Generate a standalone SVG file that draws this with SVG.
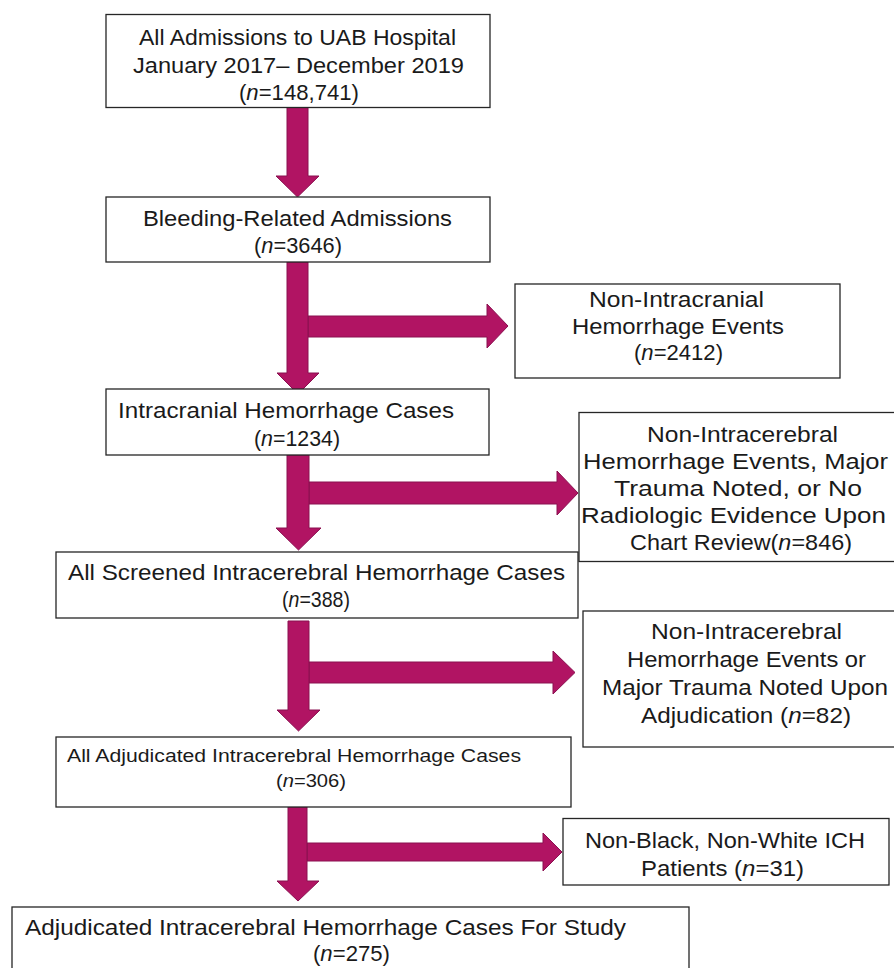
<svg xmlns="http://www.w3.org/2000/svg" width="894" height="968" viewBox="0 0 894 968">
<style>
.box{fill:#fff;stroke:#262626;stroke-width:1.3}
.t{font-family:"Liberation Sans",Arial,sans-serif;font-size:22px;fill:#1a1a1a}
.s{font-size:17.5px}
.i{font-style:italic}
.arr{fill:#B11463;stroke:#8A1050;stroke-width:1}
</style>
<rect width="894" height="968" fill="#fff"/>
<g id="connectors">
  <path class="arr" d="M287,107 H308 V176 H319 L297.5,197 L276,176 H287 Z"/>
  <path class="arr" d="M308,316 H487 V304 L508,326 L487,348 V337 H308 Z"/>
  <path class="arr" d="M287,262 H308 V373 H319 L298,394 L277,373 H287 Z"/>
  <path class="arr" d="M309,482 H557 V471 L578,493 L557,515 V504 H309 Z"/>
  <path class="arr" d="M287,455 H309 V528 H321 L298.5,550 L276,528 H287 Z"/>
  <path class="arr" d="M309,662 H553 V651 L575,672.5 L553,694 V683 H309 Z"/>
  <path class="arr" d="M288,621 H309 V710 H320 L298.5,731 L277,710 H288 Z"/>
  <path class="arr" d="M307,843 H543 V833 L562,852 L543,871 V861 H307 Z"/>
  <path class="arr" d="M288,807 H307 V881 H319 L298,901 L277,881 H288 Z"/>
</g>
<g id="n1">
  <rect class="box" x="106" y="14.5" width="384" height="93"/>
  <text class="t" x="139" y="45" textLength="317" lengthAdjust="spacingAndGlyphs">All Admissions to UAB Hospital</text>
  <text class="t" x="133" y="73" textLength="331" lengthAdjust="spacingAndGlyphs">January 2017– December 2019</text>
  <text class="t" x="239" y="100" textLength="120" lengthAdjust="spacingAndGlyphs">(<tspan class="i">n</tspan>=148,741)</text>
</g>
<g id="n2">
  <rect class="box" x="106" y="197" width="384" height="65"/>
  <text class="t" x="143" y="226" textLength="309" lengthAdjust="spacingAndGlyphs">Bleeding-Related Admissions</text>
  <text class="t" x="254" y="253" textLength="88" lengthAdjust="spacingAndGlyphs">(<tspan class="i">n</tspan>=3646)</text>
</g>
<g id="n3">
  <rect class="box" x="515" y="284" width="325" height="94"/>
  <text class="t" x="589" y="307" textLength="175" lengthAdjust="spacingAndGlyphs">Non-Intracranial</text>
  <text class="t" x="572" y="334" textLength="212" lengthAdjust="spacingAndGlyphs">Hemorrhage Events</text>
  <text class="t" x="634" y="360" textLength="89" lengthAdjust="spacingAndGlyphs">(<tspan class="i">n</tspan>=2412)</text>
</g>
<g id="n4">
  <rect class="box" x="106" y="389" width="383" height="66"/>
  <text class="t" x="118" y="418" textLength="336" lengthAdjust="spacingAndGlyphs">Intracranial Hemorrhage Cases</text>
  <text class="t" x="254" y="446" textLength="86" lengthAdjust="spacingAndGlyphs">(<tspan class="i">n</tspan>=1234)</text>
</g>
<g id="n5">
  <rect class="box" x="579" y="412.5" width="330" height="149"/>
  <text class="t" x="647" y="442" textLength="191" lengthAdjust="spacingAndGlyphs">Non-Intracerebral</text>
  <text class="t" x="583" y="469" textLength="305" lengthAdjust="spacingAndGlyphs">Hemorrhage Events, Major</text>
  <text class="t" x="614" y="496" textLength="248" lengthAdjust="spacingAndGlyphs">Trauma Noted, or No</text>
  <text class="t" x="581" y="523" textLength="305" lengthAdjust="spacingAndGlyphs">Radiologic Evidence Upon</text>
  <text class="t" x="630" y="550" textLength="222" lengthAdjust="spacingAndGlyphs">Chart Review(<tspan class="i">n</tspan>=846)</text>
</g>
<g id="n6">
  <rect class="box" x="56" y="552" width="522" height="66"/>
  <text class="t" x="68" y="580" textLength="497" lengthAdjust="spacingAndGlyphs">All Screened Intracerebral Hemorrhage Cases</text>
  <text class="t" x="282" y="607" textLength="68" lengthAdjust="spacingAndGlyphs">(<tspan class="i">n</tspan>=388)</text>
</g>
<g id="n7">
  <rect class="box" x="583" y="611" width="326" height="136"/>
  <text class="t" x="651" y="639" textLength="191" lengthAdjust="spacingAndGlyphs">Non-Intracerebral</text>
  <text class="t" x="627" y="667" textLength="239" lengthAdjust="spacingAndGlyphs">Hemorrhage Events or</text>
  <text class="t" x="602" y="695" textLength="286" lengthAdjust="spacingAndGlyphs">Major Trauma Noted Upon</text>
  <text class="t" x="641" y="723" textLength="210" lengthAdjust="spacingAndGlyphs">Adjudication (<tspan class="i">n</tspan>=82)</text>
</g>
<g id="n8">
  <rect class="box" x="56" y="737" width="515" height="70"/>
  <text class="t s" x="67" y="762" textLength="454" lengthAdjust="spacingAndGlyphs">All Adjudicated Intracerebral Hemorrhage Cases</text>
  <text class="t s" x="276" y="787" textLength="70" lengthAdjust="spacingAndGlyphs">(<tspan class="i">n</tspan>=306)</text>
</g>
<g id="n10">
  <rect class="box" x="563" y="818.5" width="326" height="66.5"/>
  <text class="t" x="585" y="848" textLength="280" lengthAdjust="spacingAndGlyphs">Non-Black, Non-White ICH</text>
  <text class="t" x="641" y="876" textLength="163" lengthAdjust="spacingAndGlyphs">Patients (<tspan class="i">n</tspan>=31)</text>
</g>
<g id="n9">
  <rect class="box" x="12" y="907" width="677" height="80"/>
  <text class="t" x="25" y="935" textLength="601" lengthAdjust="spacingAndGlyphs">Adjudicated Intracerebral Hemorrhage Cases For Study</text>
  <text class="t" x="313" y="961" textLength="77" lengthAdjust="spacingAndGlyphs">(<tspan class="i">n</tspan>=275)</text>
</g>
</svg>
